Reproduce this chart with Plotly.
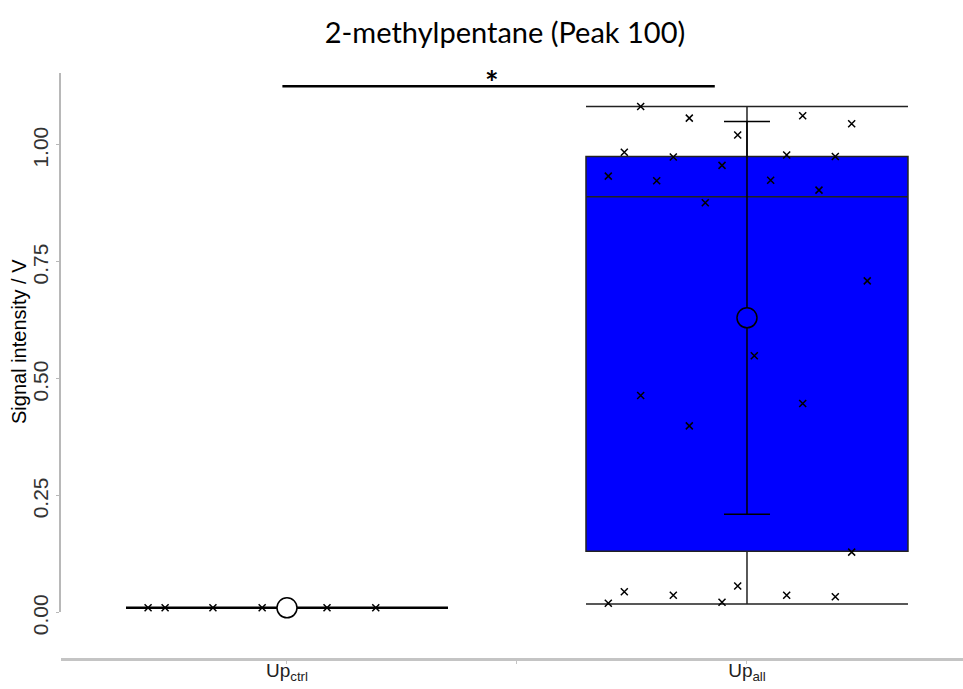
import plotly.graph_objects as go

# ---- data ----
categories = ["Up<sub>ctrl</sub>", "Up<sub>all</sub>"]
cat_pos = [0, 1]

ctrl_values = [0.009, 0.009, 0.009, 0.009, 0.009, 0.009]
ctrl_jitter = [-0.302, -0.265, -0.161, -0.054, 0.087, 0.193]

all_values = [1.081, 1.056, 1.061, 1.044, 1.020, 0.983, 0.973, 0.977, 0.974, 0.955,
              0.932, 0.922, 0.923, 0.902, 0.875, 0.708, 0.548, 0.463, 0.446, 0.398,
              0.128, 0.0435, 0.0557, 0.0357, 0.0357, 0.0328, 0.0186, 0.0208]
all_jitter = [-0.2311, -0.1254, 0.1211, 0.2276, -0.0202, -0.2667, -0.1602, 0.0863, 0.1920, -0.0543,
              -0.3015, -0.1963, 0.0515, 0.1565, -0.0907, 0.2615, 0.0159, -0.2311, 0.1211, -0.1254,
              0.2276, -0.2667, -0.0202, -0.1602, 0.0863, 0.1920, -0.3015, -0.0543]

# box summary stats [ctrl, all]
q1 = [0.009, 0.13]
median = [0.009, 0.888]
q3 = [0.009, 0.974]
lowerfence = [0.009, 0.017]
upperfence = [0.009, 1.081]
means = [0.009, 0.629]
sds = [0.0, 0.42]

sig_y = 1.124
sig_x = [-0.01, 0.93]
sig_label = "*"
y_title = "Signal intensity / V"

fig = go.Figure()

for i in range(2):
    fig.add_trace(go.Box(
        x=[cat_pos[i]], q1=[q1[i]], median=[median[i]], q3=[q3[i]],
        lowerfence=[lowerfence[i]], upperfence=[upperfence[i]],
        width=0.7, whiskerwidth=1,
        fillcolor="#0000ff" if i == 1 else "white",
        line=dict(color="black" if i == 0 else "#222222", width=1.5 if i == 1 else 2.5),
        boxpoints=False, showlegend=False, hoverinfo="skip",
    ))

# mean +/- sd error bar
fig.add_trace(go.Scatter(
    x=[cat_pos[1]], y=[means[1]], mode="markers",
    marker=dict(size=1, color="rgba(0,0,0,0)"),
    error_y=dict(type="data", array=[sds[1]], symmetric=True, color="black", thickness=1.5, width=23),
    showlegend=False, hoverinfo="skip",
))

# jittered points
fig.add_trace(go.Scatter(
    x=[cat_pos[0] + j for j in ctrl_jitter], y=ctrl_values, mode="markers",
    marker=dict(symbol="x-thin", size=7, line=dict(color="black", width=1.5)),
    showlegend=False, hoverinfo="skip", cliponaxis=False,
))
fig.add_trace(go.Scatter(
    x=[cat_pos[1] + j for j in all_jitter], y=all_values, mode="markers",
    marker=dict(symbol="x-thin", size=7, line=dict(color="black", width=1.5)),
    showlegend=False, hoverinfo="skip", cliponaxis=False,
))

# mean circles
fig.add_trace(go.Scatter(
    x=cat_pos, y=means, mode="markers",
    marker=dict(symbol="circle", size=20, color=["white", "#0000ff"],
                line=dict(color="black", width=1.5)),
    showlegend=False, hoverinfo="skip", cliponaxis=False,
))

# significance bar
fig.add_trace(go.Scatter(
    x=sig_x, y=[sig_y, sig_y], mode="lines",
    line=dict(color="black", width=2.5),
    showlegend=False, hoverinfo="skip", cliponaxis=False,
))
fig.add_annotation(
    x=0.445, y=sig_y, text="<b>" + sig_label + "</b>",
    showarrow=False, yanchor="bottom", yshift=-18,
    font=dict(family="Lato", size=32, color="black"),
)

# y-axis title
fig.add_annotation(
    xref="paper", yref="paper", x=(19 - 61) / 902, y=(659 - 342) / 586,
    xanchor="center", yanchor="middle", textangle=-90, showarrow=False,
    text=y_title, font=dict(family="Liberation Sans", size=20, color="black"),
)

fig.update_layout(
    width=963, height=689,
    margin=dict(l=61, r=0, t=73, b=30, autoexpand=False),
    paper_bgcolor="white", plot_bgcolor="white",
    title=dict(text="2-methylpentane (Peak 100)", x=505 / 963, xanchor="center",
               y=1 - 33 / 689, yanchor="middle", xref="container", yref="container",
               font=dict(family="Lato", size=29, color="black")),
    xaxis=dict(
        range=[-0.4913, 1.4696], tickvals=[0, 0.5, 1], ticktext=[categories[0], "", categories[1]],
        showgrid=False, zeroline=False, showline=True, linecolor="#c4c4c4", linewidth=2.5,
        ticks="outside", ticklen=3, tickcolor="#c4c4c4",
        tickfont=dict(family="Liberation Sans", size=19, color="#222222"),
        ticklabelstandoff=-10,
        anchor="free", position=0, automargin=False,
    ),
    yaxis=dict(
        range=[0, 1.1525], domain=[47 / 586, 1],
        tickvals=[0, 0.25, 0.5, 0.75, 1.0], tickformat=".2f", tickangle=-90,
        showgrid=False, zeroline=False, showline=True, linecolor="#b8b8b8", linewidth=1.5,
        ticks="outside", ticklen=3, tickcolor="#b8b8b8", automargin=False,
        tickfont=dict(family="Liberation Sans", size=21, color="#333333"),
        ticklabelshift=6,
    ),
)

fig.write_html("out.html")
